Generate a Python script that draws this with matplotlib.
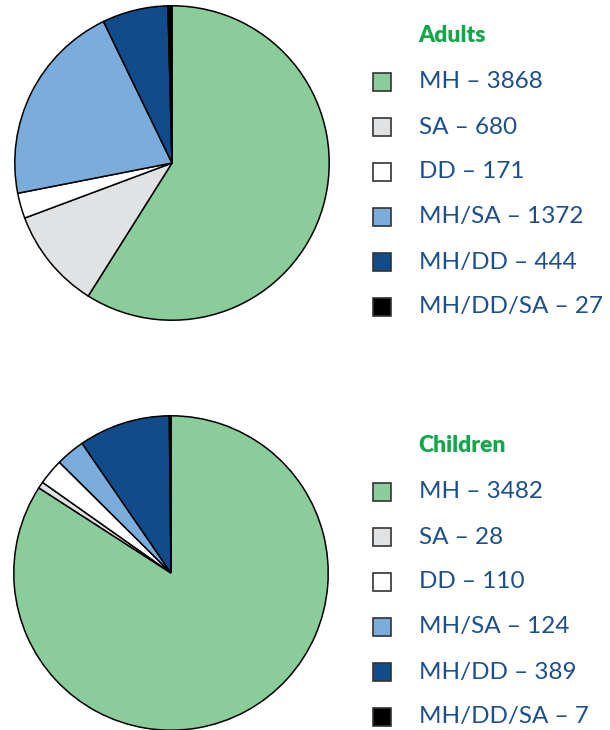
import matplotlib.pyplot as plt
from matplotlib.patches import Rectangle

categories = ["MH", "SA", "DD", "MH/SA", "MH/DD", "MH/DD/SA"]
adults = [3868, 680, 171, 1372, 444, 27]
children = [3482, 28, 110, 124, 389, 7]
colors = ["#8bcc9b", "#e1e2e4", "#ffffff", "#7aaddb", "#114b8a", "#000000"]

W, H = 610, 730
fig = plt.figure(figsize=(W / 100, H / 100), dpi=100)

font = ["Lato", "DejaVu Sans"]
text_col = "#1d4f8d"
title_col = "#12a84a"


def pie_axes(cx, cy, r):
    # axes placed in pixel coordinates, y measured from the top
    return fig.add_axes([(cx - r) / W, (H - cy - r) / H, 2 * r / W, 2 * r / H])


for vals, (cx, cy) in [(adults, (172, 163)), (children, (171, 573))]:
    ax = pie_axes(cx, cy, 158)
    wedges, _ = ax.pie(vals, colors=colors, startangle=90, counterclock=False,
                       wedgeprops=dict(edgecolor="black", linewidth=1.1))
    for w in wedges:
        w.set_clip_on(False)
    ax.set_xlim(-1.005, 1.005)
    ax.set_ylim(-1.005, 1.005)
    ax.axis("off")

# legends
lax = fig.add_axes([0, 0, 1, 1])
lax.set_xlim(0, W)
lax.set_ylim(H, 0)
lax.axis("off")

for title, vals, y0 in [("Adults", adults, 35), ("Children", children, 445)]:
    lax.text(418, y0, title, color=title_col, fontsize=16.5, fontweight="heavy",
             family=font, va="center", ha="left")
    for i, (cat, v) in enumerate(zip(categories, vals)):
        y = y0 + 47 + 45 * i
        lax.add_patch(Rectangle((373, y - 9), 18, 18, facecolor=colors[i],
                                edgecolor="#333333", linewidth=1.2))
        lax.text(419, y, f"{cat} \u2013 {v}", color=text_col, fontsize=17.5,
                 family=font, va="center", ha="left")

fig.savefig("out.png", dpi=100)
